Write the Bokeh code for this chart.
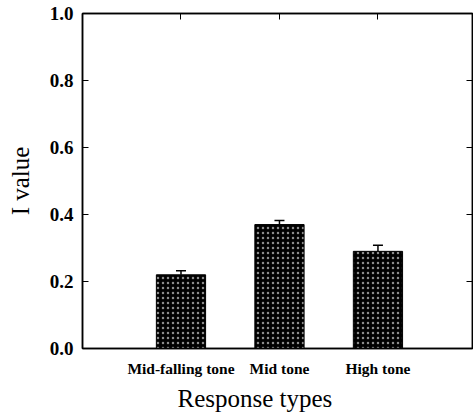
from bokeh.plotting import figure
from bokeh.models import (Range1d, FixedTicker, LinearAxis, ColumnDataSource,
                          Whisker, NumeralTickFormatter, Title)
from bokeh.embed import file_html
from bokeh.resources import INLINE

categories = ["Mid-falling tone", "Mid tone", "High tone"]
positions = [1, 2, 3]
values = [0.22, 0.37, 0.29]
errors = [0.012, 0.012, 0.018]
y_ticks = [0.0, 0.2, 0.4, 0.6, 0.8, 1.0]

SERIF = "Liberation Serif"

src = ColumnDataSource(dict(
    x=positions,
    top=values,
    upper=[v + e for v, e in zip(values, errors)],
))

p = figure(width=473, height=415, output_backend="svg", toolbar_location=None,
           x_range=Range1d(0, 3.96), y_range=Range1d(0, 1.0),
           min_border_left=82, min_border_top=13, min_border_bottom=30,
           min_border_right=1)

p.background_fill_color = "white"
p.border_fill_color = "white"
p.outline_line_color = "black"
p.outline_line_width = 1.5
p.grid.visible = False

p.vbar(x="x", top="top", width=0.5, bottom=0, source=src,
       fill_color="black", line_color="black",
       hatch_pattern=".", hatch_color="white", hatch_scale=5,
       hatch_weight=1, hatch_alpha=0.55)

w = Whisker(base="x", lower="top", upper="upper", source=src,
            line_color="black", line_width=1.5)
w.upper_head.size = 10
w.upper_head.line_width = 1.5
w.lower_head = None
p.add_layout(w)

# bottom axis
xa = p.xaxis[0]
xa.ticker = FixedTicker(ticks=positions)
xa.major_label_overrides = {pos: cat for pos, cat in zip(positions, categories)}
xa.major_tick_in = 0
xa.major_tick_out = 0
xa.minor_tick_in = 0
xa.minor_tick_out = 0
xa.axis_line_width = 1.5
xa.major_label_standoff = 11
xa.major_label_text_font = SERIF
xa.major_label_text_font_style = "bold"
xa.major_label_text_font_size = "15.5px"
xa.major_label_text_color = "black"

p.add_layout(Title(text="Response types", align="left", offset=95,
                   text_font=SERIF, text_font_style="normal",
                   text_font_size="25px", text_color="black",
                   standoff=7), "below")

# left axis
ya = p.yaxis[0]
ya.ticker = FixedTicker(ticks=y_ticks)
ya.formatter = NumeralTickFormatter(format="0.0")
ya.major_tick_in = 6
ya.major_tick_out = 0
ya.minor_tick_in = 0
ya.minor_tick_out = 0
ya.axis_line_width = 1.5
ya.major_label_standoff = 9
ya.major_label_text_font = SERIF
ya.major_label_text_font_style = "bold"
ya.major_label_text_font_size = "19px"
ya.major_label_text_color = "black"
ya.axis_label = "I value"
ya.axis_label_text_font = SERIF
ya.axis_label_text_font_style = "normal"
ya.axis_label_text_font_size = "25px"
ya.axis_label_standoff = 13
ya.axis_label_text_color = "black"

# top axis (ticks only)
ta = LinearAxis(ticker=FixedTicker(ticks=positions), major_tick_in=6,
                major_tick_out=0, minor_tick_in=0, minor_tick_out=0,
                major_label_overrides={pos: "" for pos in positions},
                major_label_standoff=0, axis_line_width=1.5)
p.add_layout(ta, "above")

# right axis (ticks only)
ra = LinearAxis(ticker=FixedTicker(ticks=y_ticks[1:-1]), major_tick_in=6,
                major_tick_out=0, minor_tick_in=0, minor_tick_out=0,
                major_label_overrides={t: "" for t in y_ticks[1:-1]},
                major_label_standoff=0, axis_line_width=1.5)
p.add_layout(ra, "right")

open("out.html", "w").write(file_html(p, INLINE))
